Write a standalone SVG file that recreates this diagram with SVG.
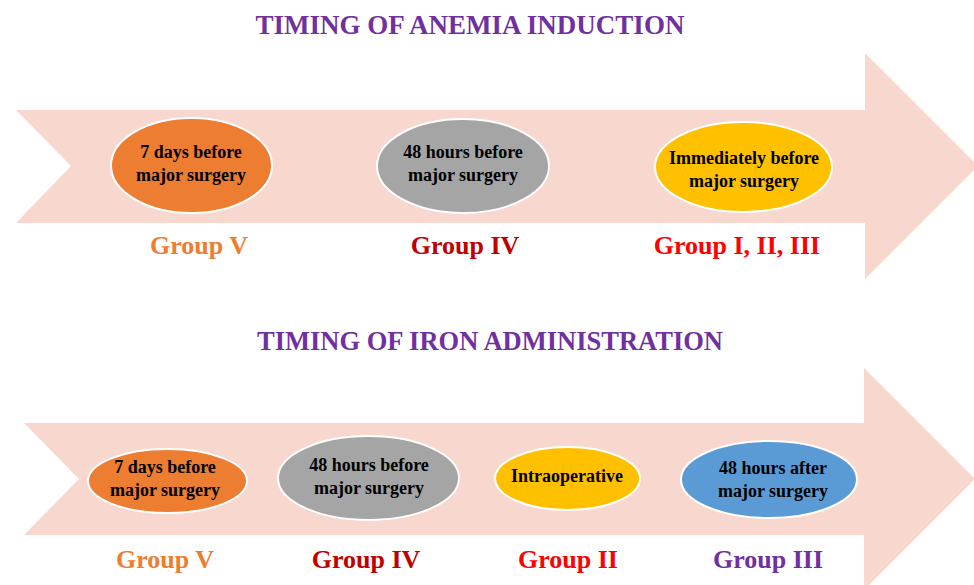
<svg xmlns="http://www.w3.org/2000/svg" width="974" height="585" viewBox="0 0 974 585">
<style>
text{font-family:"Liberation Serif","Times New Roman",serif;font-weight:bold;text-anchor:middle}
.title{font-size:27px;fill:#7030A0}
.grp{font-size:26px}
.lbl{font-size:18px;fill:#000}
.node ellipse{stroke:#fff;stroke-width:2}
.arrow{fill:#F8D7CF}
</style>
<rect width="974" height="585" fill="#fff"/>
<g id="connectors">
<path class="arrow" d="M16,110 L865,110 L865,53 L978,166 L865,279 L865,223 L16,223 L71,166 Z"/>
<path class="arrow" d="M24,423 L864,423 L864,368 L975,479 L864,590 L864,535 L24,535 L79,479 Z"/>
</g>
<text class="title" x="470" y="34">TIMING OF ANEMIA INDUCTION</text>
<text class="title" x="490" y="350" style="font-size:26.5px">TIMING OF IRON ADMINISTRATION</text>
<g id="a1" class="node">
<ellipse cx="191.5" cy="165.5" rx="80.5" ry="47.5" fill="#ED7D31"/>
<text class="lbl" x="191" y="158">7 days before</text>
<text class="lbl" x="191" y="181">major surgery</text>
</g>
<g id="a2" class="node">
<ellipse cx="463" cy="166" rx="86" ry="47" fill="#A5A5A5"/>
<text class="lbl" x="463" y="158">48 hours before</text>
<text class="lbl" x="463" y="181">major surgery</text>
</g>
<g id="a3" class="node">
<ellipse cx="743.5" cy="167" rx="88.5" ry="45" fill="#FFC000"/>
<text class="lbl" x="744" y="164">Immediately before</text>
<text class="lbl" x="744" y="187">major surgery</text>
</g>
<text class="grp" x="199" y="254" fill="#ED7D31">Group V</text>
<text class="grp" x="465" y="254" fill="#C00000">Group IV</text>
<text class="grp" x="737" y="254" fill="#FF0000">Group I, II, III</text>
<g id="b1" class="node">
<ellipse cx="167.5" cy="481" rx="79.5" ry="32" fill="#ED7D31"/>
<text class="lbl" x="165" y="473">7 days before</text>
<text class="lbl" x="165" y="496">major surgery</text>
</g>
<g id="b2" class="node">
<ellipse cx="368.5" cy="478" rx="90.5" ry="42" fill="#A5A5A5"/>
<text class="lbl" x="369" y="471">48 hours before</text>
<text class="lbl" x="369" y="494">major surgery</text>
</g>
<g id="b3" class="node">
<ellipse cx="567.5" cy="478.5" rx="72.5" ry="31.5" fill="#FFC000"/>
<text class="lbl" x="567" y="482">Intraoperative</text>
</g>
<g id="b4" class="node">
<ellipse cx="769" cy="479.5" rx="88" ry="38.5" fill="#5B9BD5"/>
<text class="lbl" x="773" y="474">48 hours after</text>
<text class="lbl" x="773" y="497">major surgery</text>
</g>
<text class="grp" x="165" y="568" fill="#ED7D31">Group V</text>
<text class="grp" x="366" y="568" fill="#C00000">Group IV</text>
<text class="grp" x="568" y="568" fill="#FF0000">Group II</text>
<text class="grp" x="768" y="568" fill="#7030A0">Group III</text>
</svg>
